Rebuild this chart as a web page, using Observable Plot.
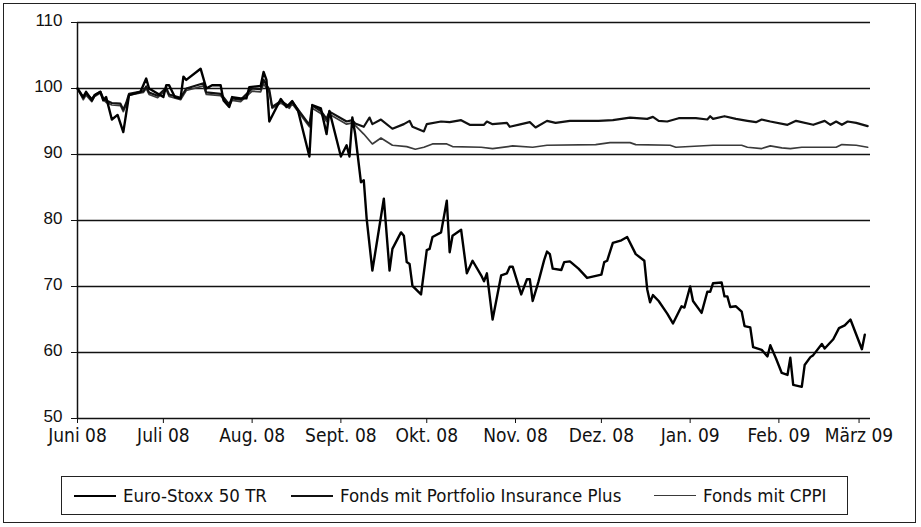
<!DOCTYPE html>
<html><head><meta charset="utf-8">
<script src="https://cdn.jsdelivr.net/npm/d3@7"></script>
<script src="https://cdn.jsdelivr.net/npm/@observablehq/plot@0.6"></script>
<style>
body{margin:0;background:#fff;}
#frame{position:absolute;left:3px;top:3px;width:913px;height:520px;border:1.5px solid #222;box-sizing:border-box;}
#chart{position:absolute;left:0;top:0;}
#legend{position:absolute;left:61px;top:476px;width:787px;height:39px;border:1.5px solid #222;box-sizing:border-box;font-family:"DejaVu Sans Condensed","DejaVu Sans",sans-serif;font-stretch:condensed;font-size:18.5px;color:#111;}
.item{position:absolute;top:0;height:100%;display:flex;align-items:center;white-space:nowrap;}
.swatch{display:inline-block;width:42px;margin-right:7px;}
</style></head>
<body>
<div id="frame"></div>
<div id="chart"></div>
<div id="legend"></div>
<script>
// ---- data ----
const seriesNames = ["Euro-Stoxx 50 TR", "Fonds mit Portfolio Insurance Plus", "Fonds mit CPPI"];

const euroDates = ["2008-06-01","2008-06-03","2008-06-04","2008-06-06","2008-06-07","2008-06-09","2008-06-10","2008-06-11","2008-06-13","2008-06-15","2008-06-17","2008-06-18","2008-06-19","2008-06-23","2008-06-25","2008-06-26",
"2008-07-01","2008-07-02","2008-07-03","2008-07-05","2008-07-07","2008-07-08","2008-07-09","2008-07-14","2008-07-16","2008-07-18","2008-07-21","2008-07-22","2008-07-24","2008-07-25","2008-07-28","2008-07-30","2008-07-31",
"2008-08-04","2008-08-05","2008-08-06","2008-08-07","2008-08-11","2008-08-13","2008-08-15","2008-08-17","2008-08-21","2008-08-22","2008-08-25","2008-08-27","2008-08-28",
"2008-09-01","2008-09-03","2008-09-04","2008-09-05","2008-09-06","2008-09-08","2008-09-09","2008-09-10","2008-09-12","2008-09-16","2008-09-18","2008-09-19","2008-09-22","2008-09-23","2008-09-24","2008-09-25","2008-09-26","2008-09-29",
"2008-10-01","2008-10-02","2008-10-03","2008-10-06","2008-10-08","2008-10-09","2008-10-10","2008-10-13","2008-10-15","2008-10-17","2008-10-20","2008-10-21","2008-10-22","2008-10-24","2008-10-27","2008-10-29","2008-10-30","2008-10-31",
"2008-11-03","2008-11-05","2008-11-06","2008-11-07","2008-11-09","2008-11-11","2008-11-12","2008-11-13","2008-11-14","2008-11-17","2008-11-18","2008-11-20","2008-11-23","2008-11-26",
"2008-12-01","2008-12-02","2008-12-03","2008-12-05","2008-12-08","2008-12-10","2008-12-13","2008-12-16","2008-12-17","2008-12-18","2008-12-19","2008-12-21","2008-12-24","2008-12-26","2008-12-29","2008-12-30",
"2009-01-01","2009-01-02","2009-01-05","2009-01-07","2009-01-08","2009-01-09","2009-01-12","2009-01-13","2009-01-14","2009-01-15","2009-01-17","2009-01-19","2009-01-20","2009-01-22","2009-01-23","2009-01-26","2009-01-28","2009-01-29","2009-01-31",
"2009-02-02","2009-02-04","2009-02-05","2009-02-06","2009-02-09","2009-02-10","2009-02-12","2009-02-13","2009-02-16","2009-02-17","2009-02-20","2009-02-22","2009-02-24","2009-02-26",
"2009-03-02","2009-03-03"];
const euroValues = [100.0,98.7,99.5,98.2,99.0,99.5,98.2,98.7,95.3,96.0,93.4,96.2,99.0,99.5,101.5,100.0,
98.7,100.5,100.5,98.7,98.5,101.8,101.3,103.0,100.0,100.5,100.5,98.2,97.2,98.7,98.5,98.5,100.2,
100.4,102.5,101.3,95.0,98.4,97.2,98.1,96.7,89.7,97.5,97.0,93.1,96.6,
89.7,91.4,89.7,95.6,93.1,85.8,86.1,80.3,72.4,83.3,72.4,75.7,78.2,77.7,73.7,73.4,70.1,68.8,
75.5,75.7,77.5,78.2,83.0,75.2,77.7,78.6,72.0,73.9,71.7,70.8,72.0,65.0,71.7,72.0,73.0,73.0,
68.8,71.1,71.1,67.8,70.7,74.0,75.3,74.9,72.7,72.5,73.7,73.8,72.7,71.3,
71.8,73.7,73.9,76.6,77.0,77.5,74.9,73.9,69.6,67.6,68.7,67.8,65.9,64.4,67.0,66.8,
70.0,67.8,66.0,69.2,69.2,70.5,70.6,68.5,68.5,66.9,67.0,66.2,64.0,63.8,60.8,60.4,59.4,61.1,59.1,
56.9,56.6,59.2,55.1,54.8,58.1,59.3,59.6,61.3,60.6,62.0,63.7,64.1,65.0,
60.5,62.7];

const pipDates = ["2008-06-01","2008-06-03","2008-06-04","2008-06-06","2008-06-07","2008-06-09","2008-06-10","2008-06-11","2008-06-13","2008-06-16","2008-06-17","2008-06-18","2008-06-19","2008-06-24","2008-06-25","2008-06-26","2008-06-29",
"2008-07-02","2008-07-03","2008-07-07","2008-07-09","2008-07-15","2008-07-16","2008-07-21","2008-07-23","2008-07-24","2008-07-25","2008-07-28",
"2008-08-01","2008-08-04","2008-08-05","2008-08-07","2008-08-08","2008-08-11","2008-08-14","2008-08-15","2008-08-21","2008-08-22","2008-08-25","2008-08-27","2008-08-28",
"2008-09-03","2008-09-05","2008-09-06","2008-09-09","2008-09-11","2008-09-12","2008-09-15","2008-09-19","2008-09-23","2008-09-25","2008-09-26","2008-09-30",
"2008-10-01","2008-10-06","2008-10-09","2008-10-13","2008-10-16","2008-10-21","2008-10-22","2008-10-24","2008-10-29","2008-10-30",
"2008-11-03","2008-11-06","2008-11-08","2008-11-12","2008-11-15","2008-11-20","2008-11-30",
"2008-12-05","2008-12-11","2008-12-17","2008-12-19","2008-12-21","2008-12-24","2008-12-28",
"2009-01-03","2009-01-07","2009-01-08","2009-01-09","2009-01-13","2009-01-17","2009-01-21","2009-01-24","2009-01-26","2009-01-29",
"2009-02-04","2009-02-07","2009-02-13","2009-02-17","2009-02-19","2009-02-21","2009-02-23","2009-02-25","2009-02-28","2009-03-04"];
const pipValues = [100.0,98.6,99.3,98.4,99.0,99.5,98.5,98.2,97.8,97.7,96.8,97.8,99.2,99.6,100.3,99.4,98.9,
100.1,99.1,98.6,100.0,100.8,99.4,99.2,98.1,97.6,98.5,98.3,
100.0,99.9,101.3,99.8,97.2,98.1,97.3,98.0,94.5,97.4,96.6,95.4,96.5,
95.0,95.2,94.7,94.2,95.6,94.6,95.3,93.9,94.6,95.1,94.2,93.5,
94.6,95.0,94.9,95.2,94.5,94.5,95.0,94.6,94.8,94.2,
94.6,94.9,94.1,95.1,94.8,95.1,95.1,
95.2,95.6,95.4,95.7,95.1,95.0,95.5,
95.5,95.3,95.8,95.4,95.8,95.4,95.1,94.9,95.3,95.0,
94.5,95.1,94.5,95.1,94.5,95.0,94.5,95.0,94.8,94.3];

const cppiDates = ["2008-06-01","2008-06-03","2008-06-04","2008-06-06","2008-06-07","2008-06-09","2008-06-10","2008-06-11","2008-06-13","2008-06-16","2008-06-17","2008-06-18","2008-06-19","2008-06-24","2008-06-25","2008-06-26","2008-06-29",
"2008-07-02","2008-07-03","2008-07-07","2008-07-09","2008-07-15","2008-07-16","2008-07-21","2008-07-23","2008-07-24","2008-07-25","2008-07-28",
"2008-08-01","2008-08-04","2008-08-05","2008-08-07","2008-08-08","2008-08-11","2008-08-14","2008-08-15","2008-08-21","2008-08-22","2008-08-25","2008-08-27","2008-08-28",
"2008-09-03","2008-09-05","2008-09-06","2008-09-09","2008-09-12","2008-09-15","2008-09-19","2008-09-24","2008-09-27","2008-09-30",
"2008-10-03","2008-10-08","2008-10-10","2008-10-20","2008-10-24","2008-10-31",
"2008-11-07","2008-11-12","2008-11-29",
"2008-12-04","2008-12-11","2008-12-13","2008-12-25","2008-12-27",
"2009-01-09","2009-01-19","2009-01-21","2009-01-26","2009-01-29",
"2009-02-02","2009-02-05","2009-02-09","2009-02-21","2009-02-23","2009-02-28","2009-03-04"];
const cppiValues = [100.0,98.3,99.0,98.0,98.8,99.3,98.3,97.9,97.5,97.4,96.5,97.5,99.0,99.4,100.0,99.1,98.6,
99.8,98.8,98.3,99.7,100.4,99.1,98.9,97.8,97.3,98.2,98.0,
99.6,99.5,100.7,99.4,97.0,97.8,97.0,97.7,94.2,97.0,96.2,95.0,96.1,
94.6,94.8,94.4,93.1,91.6,92.5,91.4,91.2,90.8,91.1,
91.6,91.6,91.2,91.1,90.9,91.3,
91.1,91.4,91.5,
91.8,91.8,91.5,91.4,91.1,
91.4,91.4,91.1,90.9,91.3,
91.0,90.9,91.1,91.1,91.5,91.4,91.1];

const yTicks = [50, 60, 70, 80, 90, 100, 110];
const monthTickDates = ["2008-06-01","2008-07-01","2008-08-01","2008-09-01","2008-10-01","2008-11-01","2008-12-01","2009-01-01","2009-02-01","2009-03-01"];
const monthLabels = ["Juni 08","Juli 08","Aug. 08","Sept. 08","Okt. 08","Nov. 08","Dez. 08","Jan. 09","Feb. 09","März 09"];

// ---- build ----
const parse = d3.utcParse("%Y-%m-%d");
const toRows = (dates, values, name) => dates.map((d, i) => ({date: parse(d), value: values[i], series: name}));
const euroRows = toRows(euroDates, euroValues, seriesNames[0]);
const pipRows = toRows(pipDates, pipValues, seriesNames[1]);
const cppiRows = toRows(cppiDates, cppiValues, seriesNames[2]);

const monthTicks = monthTickDates.map(parse);
const labelMap = new Map(monthTicks.map((d, i) => [+d, monthLabels[i]]));
const x0 = parse("2008-06-01"), x1 = parse("2009-03-05");

const styles = [
  {stroke: "#000", width: 2.4},
  {stroke: "#111", width: 2.2},
  {stroke: "#3a3a3a", width: 1.7}
];

const chart = Plot.plot({
  width: 921, height: 470,
  marginLeft: 77, marginRight: 51, marginTop: 22, marginBottom: 52,
  x: {type: "utc", domain: [x0, x1]},
  y: {domain: [50, 110]},
  style: {background: "transparent", overflow: "visible"},
  marks: [
    Plot.ruleY(yTicks, {stroke: "#111", strokeWidth: 1.5}),
    Plot.ruleX([x0], {y1: 50, y2: 110, stroke: "#111", strokeWidth: 1.5}),
    Plot.axisY({ticks: yTicks, tickSize: 6, text: null, stroke: "#111", label: null}),
    Plot.axisY({ticks: yTicks, tickSize: 0, tickPadding: 15, dy: -2, fontSize: 17, fontFamily: "Liberation Sans, Arial, sans-serif", fill: "#111", label: null}),
    Plot.axisX({ticks: monthTicks, tickFormat: d => labelMap.get(+d), tickSize: 5, tickPadding: 5, fontSize: 19, fontFamily: "DejaVu Sans Condensed, DejaVu Sans, sans-serif", fontStretch: "condensed", fill: "#111", stroke: "#111", label: null}),
    Plot.line(cppiRows, {x: "date", y: "value", stroke: styles[2].stroke, strokeWidth: styles[2].width}),
    Plot.line(pipRows, {x: "date", y: "value", stroke: styles[1].stroke, strokeWidth: styles[1].width}),
    Plot.line(euroRows, {x: "date", y: "value", stroke: styles[0].stroke, strokeWidth: styles[0].width})
  ]
});
document.getElementById("chart").appendChild(chart);

// ---- legend ----
const legend = document.getElementById("legend");
const itemLefts = [12, 229, 592];
seriesNames.forEach((name, i) => {
  const it = document.createElement("div");
  it.className = "item";
  it.style.left = itemLefts[i] + "px";
  const sw = document.createElement("span");
  sw.className = "swatch";
  sw.style.borderTop = styles[i].width + "px solid " + styles[i].stroke;
  it.appendChild(sw);
  const t = document.createElement("span");
  t.textContent = name;
  it.appendChild(t);
  legend.appendChild(it);
});
</script>
</body></html>
